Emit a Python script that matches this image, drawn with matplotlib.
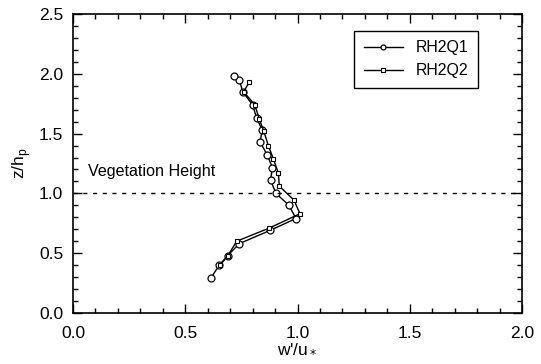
import matplotlib
matplotlib.use('Agg')
import matplotlib.pyplot as plt
from matplotlib.ticker import MultipleLocator, FormatStrFormatter

plt.rcParams['font.family'] = ['Liberation Sans', 'DejaVu Sans']

# RH2Q1 profile (circles)
q1_w = [0.613, 0.652, 0.689, 0.741, 0.877, 0.993, 0.962, 0.904, 0.880, 0.888,
        0.866, 0.833, 0.843, 0.818, 0.800, 0.756, 0.741, 0.718]
q1_z = [0.29, 0.40, 0.48, 0.58, 0.69, 0.79, 0.90, 1.00, 1.11, 1.215,
        1.32, 1.43, 1.53, 1.63, 1.74, 1.85, 1.95, 1.98]

# RH2Q2 profile (squares)
q2_w = [0.655, 0.690, 0.729, 0.874, 1.011, 0.984, 0.919, 0.915, 0.892,
        0.870, 0.850, 0.830, 0.810, 0.760, 0.785]
q2_z = [0.40, 0.48, 0.60, 0.71, 0.83, 0.945, 1.06, 1.17, 1.29,
        1.40, 1.52, 1.62, 1.74, 1.85, 1.93]

veg_height = 1.0

fig = plt.figure(figsize=(5.41, 3.64), dpi=100)
ax = fig.add_axes([73 / 541, 1 - 313 / 364, (522 - 73) / 541, (313 - 14) / 364])

ax.plot(q1_w, q1_z, color='black', lw=1.0, marker='o', ms=5,
        mfc='white', mec='black', mew=0.9, label='RH2Q1')
ax.plot(q2_w, q2_z, color='black', lw=1.0, marker='s', ms=3.5,
        mfc='white', mec='black', mew=0.8, label='RH2Q2')

ax.axhline(veg_height, color='black', lw=1.0, ls=(0, (3, 4)))
ax.text(0.065, 1.12, 'Vegetation Height', fontsize=11.6, va='bottom')

ax.set_xlim(0, 2.0)
ax.set_ylim(0, 2.5)
ax.xaxis.set_major_locator(MultipleLocator(0.5))
ax.xaxis.set_minor_locator(MultipleLocator(0.1))
ax.yaxis.set_major_locator(MultipleLocator(0.5))
ax.yaxis.set_minor_locator(MultipleLocator(0.1))
ax.xaxis.set_major_formatter(FormatStrFormatter('%.1f'))
ax.yaxis.set_major_formatter(FormatStrFormatter('%.1f'))
ax.tick_params(which='both', direction='in', top=True, right=True, labelsize=12.5, width=1.0)
ax.tick_params(which='major', length=6.5)
ax.tick_params(which='minor', length=3.5)
ax.tick_params(axis='x', which='major', pad=9)
ax.tick_params(axis='y', which='major', pad=7)
for s in ax.spines.values():
    s.set_linewidth(1.2)

ax.set_xlabel("w'/u$_*$", fontsize=12.5, labelpad=0)
ax.set_ylabel('z/h$_\\mathregular{p}$', fontsize=12.5, labelpad=4)

leg = ax.legend(loc='upper right', bbox_to_anchor=(0.92, 0.97), fontsize=11.4,
                fancybox=False, edgecolor='black', framealpha=1,
                handlelength=2.5, borderpad=0.6, markerscale=0.7)
leg.get_frame().set_linewidth(1.0)

fig.savefig('out.png', dpi=100)
